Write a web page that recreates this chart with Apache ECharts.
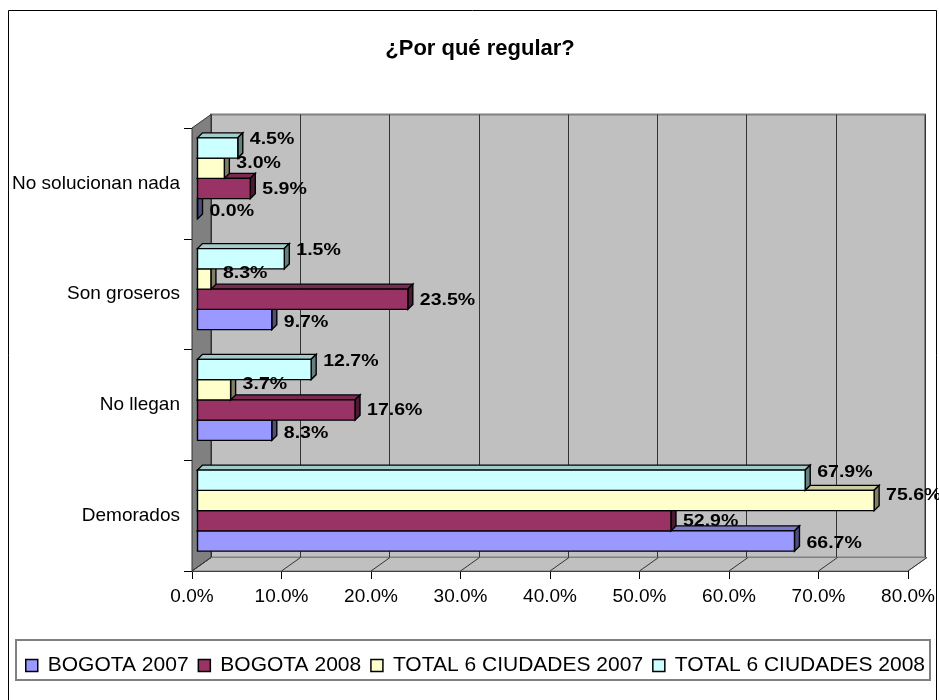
<!DOCTYPE html>
<html>
<head>
<meta charset="utf-8">
<script src="https://cdn.jsdelivr.net/npm/echarts@6/dist/echarts.min.js"></script>
<style>
html,body{margin:0;padding:0;background:#fff;}
#chart{width:939px;height:700px;}
</style>
</head>
<body>
<div id="chart"></div>
<script>
// ---- data (category order from bottom to top) ----
const categories = ['Demorados', 'No llegan', 'Son groseros', 'No solucionan nada'];
const seriesNames = ['BOGOTA 2007', 'BOGOTA 2008', 'TOTAL 6 CIUDADES 2007', 'TOTAL 6 CIUDADES 2008'];
const bogota2007 = [66.7, 8.3, 8.3, 0.0];
const bogota2008 = [52.9, 17.6, 23.5, 5.9];
const total2007  = [75.6, 3.7, 1.5, 3.0];
const total2008  = [67.9, 12.7, 9.7, 4.5];
// data-label texts as printed on the chart
const bogota2007Labels = ['66.7%', '8.3%', '9.7%', '0.0%'];
const bogota2008Labels = ['52.9%', '17.6%', '23.5%', '5.9%'];
const total2007Labels  = ['75.6%', '3.7%', '8.3%', '3.0%'];
const total2008Labels  = ['67.9%', '12.7%', '1.5%', '4.5%'];
const xTickValues = [0, 10, 20, 30, 40, 50, 60, 70, 80];

const FONT = '"Liberation Sans", Arial, sans-serif';
const colors = ['#9999FF', '#993366', '#FFFFCC', '#CCFFFF'];
const allValues = [bogota2007, bogota2008, total2007, total2008];
const allLabels = [bogota2007Labels, bogota2008Labels, total2007Labels, total2008Labels];
const labelDy = [3, 1, -5, -8];

// layout (front plane and back wall)
const F = {left: 192, right: 908, top: 128, bottom: 571};
const DX = 19, DY = -13.5;
const BAR_DX = 5.5, BAR_DY = -5, DEPTH_X = 5, DEPTH_Y = -5;

function shade(hex, f) {
  const n = parseInt(hex.slice(1), 16);
  const r = Math.round(((n >> 16) & 255) * f), g = Math.round(((n >> 8) & 255) * f), b = Math.round((n & 255) * f);
  return 'rgb(' + r + ',' + g + ',' + b + ')';
}

function barRender(si) {
  return function (params, api) {
    const v = api.value(0), ci = api.value(1);
    const p0 = api.coord([0, ci]);
    const p1 = api.coord([v, ci]);
    const band = api.size([0, 1])[1];
    const h = band * 0.183;
    const cy = p0[1] + (1.5 - si) * h + BAR_DY;
    const x0 = p0[0] + BAR_DX, x1 = p1[0] + BAR_DX;
    const top = cy - h / 2, bot = cy + h / 2;
    const c = colors[si];
    const stroke = {stroke: '#000', lineWidth: 1.4};
    return {
      type: 'group',
      children: [
        {type: 'polygon', shape: {points: [[x0, top], [x1, top], [x1 + DEPTH_X, top + DEPTH_Y], [x0 + DEPTH_X, top + DEPTH_Y]]},
          style: Object.assign({fill: shade(c, 0.8)}, stroke)},
        {type: 'polygon', shape: {points: [[x1, top], [x1 + DEPTH_X, top + DEPTH_Y], [x1 + DEPTH_X, bot + DEPTH_Y], [x1, bot]]},
          style: Object.assign({fill: shade(c, 0.5)}, stroke)},
        {type: 'rect', shape: {x: x0, y: top, width: Math.max(x1 - x0, 0), height: h},
          style: Object.assign({fill: c}, stroke)},
        {type: 'text', z2: 10, x: x1 + 12, y: cy + labelDy[si], scaleX: 1.22,
          style: {text: allLabels[si][params.dataIndex], x: 0, y: 0,
          fill: '#000', fontSize: 16, fontWeight: 'bold', fontFamily: FONT, verticalAlign: 'middle', align: 'left'}}
      ]
    };
  };
}

const barSeries = allValues.map(function (vals, si) {
  return {
    name: seriesNames[si],
    type: 'custom',
    xAxisIndex: 0, yAxisIndex: 0,
    z: 5,
    itemStyle: {color: colors[si], borderColor: '#000', borderWidth: 1},
    encode: {x: 0, y: 1},
    data: vals.map(function (v, ci) { return [v, ci]; }),
    renderItem: barRender(si)
  };
});

// floor, side wall and floor tick lines (decoration following the value axis)
const wallSeries = {
  type: 'custom',
  xAxisIndex: 0, yAxisIndex: 0,
  z: 1, silent: true,
  data: xTickValues.map(function (t) { return [t, 0]; }),
  encode: {x: 0, y: 1},
  renderItem: function (params, api) {
    const x = api.coord([api.value(0), 0])[0];
    const children = [{type: 'line', shape: {x1: x, y1: F.bottom, x2: x + DX, y2: F.bottom + DY},
      style: {stroke: '#333', lineWidth: 1}}];
    if (params.dataIndex === 0) {
      const xr = api.coord([80, 0])[0];
      children.unshift(
        {type: 'polygon', shape: {points: [[F.left, F.bottom], [xr, F.bottom], [xr + DX, F.bottom + DY], [F.left + DX, F.bottom + DY]]},
          style: {fill: '#c0c0c0', stroke: '#808080', lineWidth: 1}},
        {type: 'polygon', shape: {points: [[F.left, F.top], [F.left + DX, F.top + DY], [F.left + DX, F.bottom + DY], [F.left, F.bottom]]},
          style: {fill: '#808080', stroke: '#333', lineWidth: 1}}
      );
    }
    return {type: 'group', children: children};
  }
};

const chart = echarts.init(document.getElementById('chart'));
chart.setOption({
  animation: false,
  backgroundColor: '#fff',
  title: {
    text: '¿Por qué regular?',
    left: 475, top: 33, textAlign: 'center',
    textStyle: {fontFamily: FONT, fontSize: 22, fontWeight: 'bold', color: '#000'}
  },
  graphic: [
    {type: 'rect', shape: {x: 8.5, y: 10.5, width: 928, height: 720}, style: {fill: 'none', stroke: '#000', lineWidth: 1}, z: -10},
    {type: 'rect', shape: {x: 16, y: 640, width: 914, height: 40}, style: {fill: 'none', stroke: '#808080', lineWidth: 2}, z: -10}
  ],
  legend: {
    left: 20, top: 650, width: 915,
    itemWidth: 12, itemHeight: 12, itemGap: 9,
    icon: 'rect',
    itemStyle: {borderColor: '#000', borderWidth: 1.5},
    textStyle: {fontFamily: FONT, fontSize: 21, color: '#000', padding: [0, 0, 0, 5]},
    data: seriesNames
  },
  grid: [
    {left: F.left, right: 939 - F.right, top: F.top, bottom: 700 - F.bottom, containLabel: false},
    {left: F.left + DX, right: 939 - F.right - DX + 2, top: F.top + DY, bottom: 700 - F.bottom - DY,
      show: true, backgroundColor: '#c0c0c0', borderColor: '#808080', borderWidth: 2, z: 0}
  ],
  xAxis: [
    {type: 'value', gridIndex: 0, min: 0, max: 80, interval: 10,
      axisLine: {show: true, lineStyle: {color: '#000', width: 1}},
      axisTick: {show: true, length: 8, lineStyle: {color: '#000'}},
      splitLine: {show: false},
      axisLabel: {margin: 16, fontFamily: FONT, fontSize: 19, color: '#000',
        formatter: function (v) { return v.toFixed(1) + '%'; }}},
    {type: 'value', gridIndex: 1, min: 0, max: 80, interval: 10,
      axisLine: {show: false}, axisTick: {show: false}, axisLabel: {show: false},
      splitLine: {show: true, lineStyle: {color: '#333', width: 1}}}
  ],
  yAxis: [
    {type: 'category', gridIndex: 0, data: categories,
      axisLine: {show: true, lineStyle: {color: '#000', width: 1}},
      axisTick: {show: true, length: 8, lineStyle: {color: '#000'}},
      axisLabel: {margin: 12, fontFamily: FONT, fontSize: 19, color: '#000'},
      splitLine: {show: false}},
    {type: 'category', gridIndex: 1, data: categories, show: false}
  ],
  series: [wallSeries].concat(barSeries)
});
</script>
</body>
</html>
